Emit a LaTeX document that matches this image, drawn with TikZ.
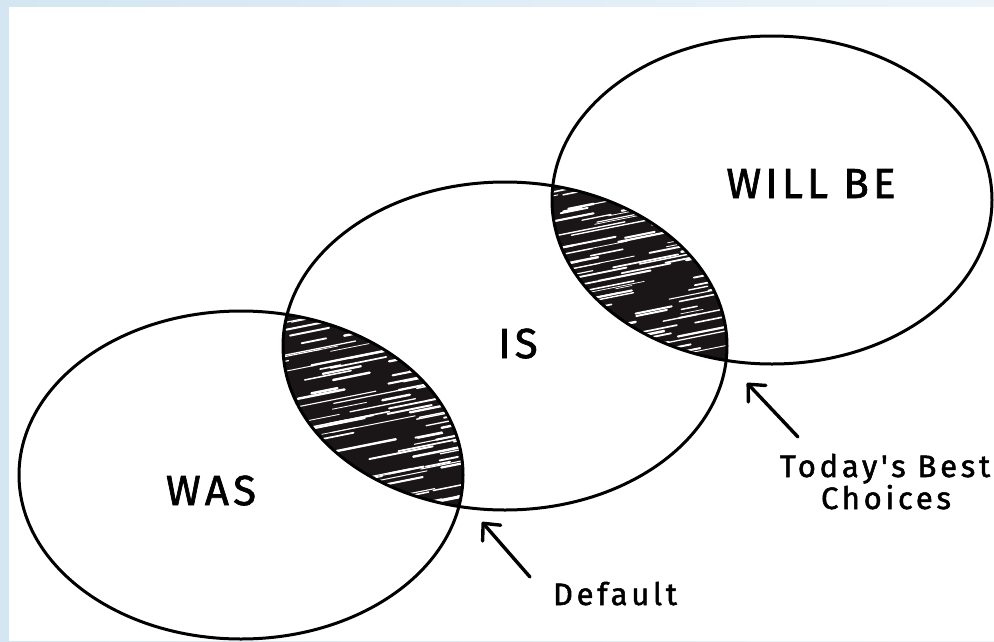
\documentclass[tikz,border=0pt]{standalone}
\usepackage{fontspec}
\newfontfamily\hand[LetterSpace=10,FakeBold=1.6]{Fira Sans}
\newfontfamily\smallhand[LetterSpace=12,FakeBold=1.6]{Fira Sans}
\usetikzlibrary{shapes.geometric,arrows.meta}
\definecolor{bordblue}{HTML}{D3E6F2}
\definecolor{bordlight}{HTML}{ECF4FA}
\definecolor{lensink}{HTML}{1A1516}
\begin{document}
\begin{tikzpicture}[x=1pt,y=-1pt,
  venn/.style={ellipse, draw=black, line width=3pt, minimum width=444pt, minimum height=328pt, inner sep=0pt, outer sep=0pt},
  big/.style={font=\hand\fontsize{42}{42}\selectfont, inner sep=0pt, anchor=base},
  small/.style={font=\smallhand\fontsize{31}{32}\selectfont, inner sep=0pt, anchor=base},
  pointer/.style={line width=3.4pt, line cap=round, -{Straight Barb[length=13pt,width=24pt,line cap=round,line join=round]}},
  streak/.style={white, line cap=round}]
\useasboundingbox (0,0) rectangle (994,641);
\shade[left color=bordblue, right color=bordlight] (0,0) rectangle (994,641);
\fill[white] (9,7) rectangle (994,641);
% lens WAS & IS
\begin{scope}
\clip (241,475) ellipse [x radius=222, y radius=164];
\clip (505,346) ellipse [x radius=222, y radius=164];
\fill[lensink] (270,300) rectangle (480,520);
\pgfmathsetseed{7}
\foreach \k in {0,...,130}{
  \pgfmathsetmacro\ya{305+\k*1.7+2*rnd}
  \pgfmathsetmacro\xa{250+210*rnd}
  \pgfmathsetmacro\seglen{15+70*rnd}
  \pgfmathsetmacro\lw{0.7+1.8*rnd}
  \draw[streak, line width=\lw pt] (\xa,\ya) -- ++(\seglen,-0.2*\seglen);
}
\end{scope}
% lens IS & WILL BE
\begin{scope}
\clip (505,346) ellipse [x radius=222, y radius=164];
\clip (772,200) ellipse [x radius=220, y radius=164];
\fill[lensink] (540,170) rectangle (740,370);
\pgfmathsetseed{11}
\foreach \k in {0,...,120}{
  \pgfmathsetmacro\ya{178+\k*1.65+2*rnd}
  \pgfmathsetmacro\xa{520+210*rnd}
  \pgfmathsetmacro\seglen{15+70*rnd}
  \pgfmathsetmacro\lw{0.7+1.8*rnd}
  \draw[streak, line width=\lw pt] (\xa,\ya) -- ++(\seglen,-0.2*\seglen);
}
\end{scope}
\node[venn] (was) at (241,475) {};
\node[venn] (is) at (505,346) {};
\node[venn, minimum width=440pt] (willbe) at (772,200) {};
\node[big] (waslabel) at (211,505) {WAS};
\node[big] (islabel) at (518,358) {IS};
\node[big] (willlabel) at (811,198) {WILL BE};
\node[small] (deflabel) at (615,605) {Default};
\node[small] (todaylabel) at (885,477) {Today's Best};
\node[small] (choiceslabel) at (886,509) {Choices};
\coordinate (deftail) at (530,577);
\coordinate (deftip) at (482,522);
\draw[pointer] (deftail) -- (deftip);
\coordinate (todtail) at (798,437);
\coordinate (todtip) at (747,383);
\draw[pointer] (todtail) -- (todtip);
\end{tikzpicture}
\end{document}
